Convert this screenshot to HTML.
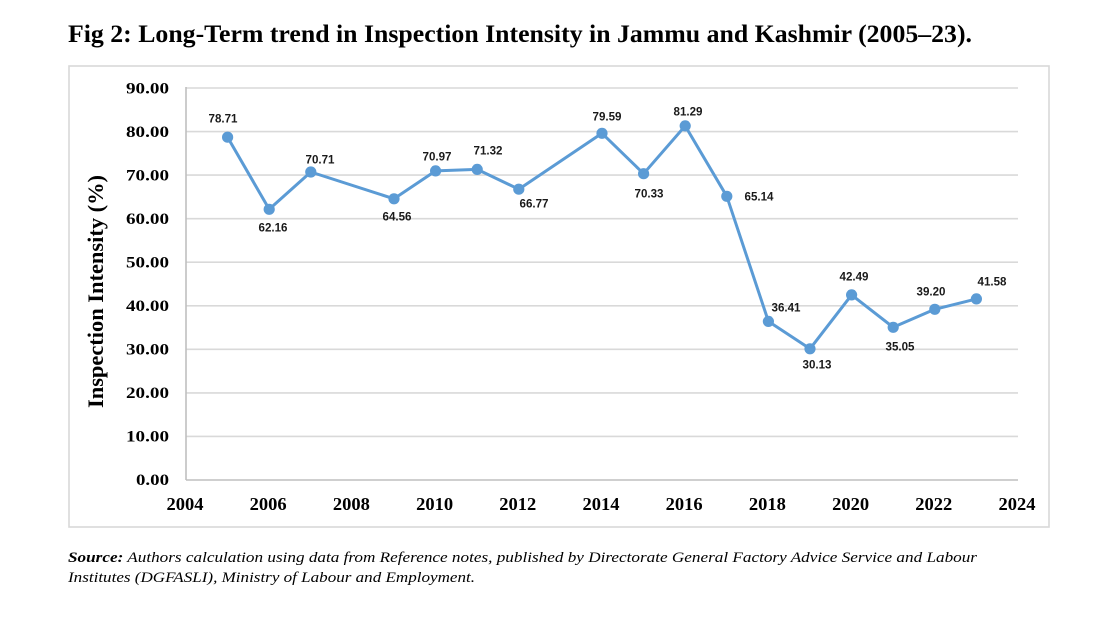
<!DOCTYPE html>
<html>
<head>
<meta charset="utf-8">
<style>
  html, body { margin: 0; padding: 0; background: #fff; }
  body { width: 1117px; height: 634px; overflow: hidden; }
  svg { display: block; }
  .serif { font-family: "Liberation Serif", "Times New Roman", serif; }
  .sans { font-family: "Liberation Sans", Arial, sans-serif; }
</style>
</head>
<body>
<svg width="1117" height="634" viewBox="0 0 1117 634" xmlns="http://www.w3.org/2000/svg">
  <rect x="0" y="0" width="1117" height="634" fill="#ffffff"/>

  <!-- Title -->
  <text class="serif" x="68" y="42" font-size="25" font-weight="bold" fill="#000" textLength="904" lengthAdjust="spacingAndGlyphs">Fig 2: Long-Term trend in Inspection Intensity in Jammu and Kashmir (2005–23).</text>

  <!-- Chart border -->
  <rect x="69" y="66" width="980" height="461" fill="none" stroke="#d9d9d9" stroke-width="1.6"/>

  <!-- Gridlines -->
  <g stroke="#d9d9d9" stroke-width="1.6">
    <line x1="186" y1="88" x2="1018" y2="88"/>
    <line x1="186" y1="131.6" x2="1018" y2="131.6"/>
    <line x1="186" y1="175.1" x2="1018" y2="175.1"/>
    <line x1="186" y1="218.7" x2="1018" y2="218.7"/>
    <line x1="186" y1="262.2" x2="1018" y2="262.2"/>
    <line x1="186" y1="305.8" x2="1018" y2="305.8"/>
    <line x1="186" y1="349.3" x2="1018" y2="349.3"/>
    <line x1="186" y1="392.9" x2="1018" y2="392.9"/>
    <line x1="186" y1="436.4" x2="1018" y2="436.4"/>
  </g>
  <!-- Axes -->
  <g stroke="#bfbfbf" stroke-width="1.6">
    <line x1="186" y1="87" x2="186" y2="480"/>
    <line x1="186" y1="480" x2="1018" y2="480"/>
  </g>

  <!-- Y tick labels -->
  <g class="serif" font-size="16" font-weight="bold" fill="#000" text-anchor="end">
    <text x="169" y="93.5" textLength="43" lengthAdjust="spacingAndGlyphs">90.00</text>
    <text x="169" y="137" textLength="43" lengthAdjust="spacingAndGlyphs">80.00</text>
    <text x="169" y="180.5" textLength="43" lengthAdjust="spacingAndGlyphs">70.00</text>
    <text x="169" y="224" textLength="43" lengthAdjust="spacingAndGlyphs">60.00</text>
    <text x="169" y="267.5" textLength="43" lengthAdjust="spacingAndGlyphs">50.00</text>
    <text x="169" y="311" textLength="43" lengthAdjust="spacingAndGlyphs">40.00</text>
    <text x="169" y="354.5" textLength="43" lengthAdjust="spacingAndGlyphs">30.00</text>
    <text x="169" y="398" textLength="43" lengthAdjust="spacingAndGlyphs">20.00</text>
    <text x="169" y="441.5" textLength="43" lengthAdjust="spacingAndGlyphs">10.00</text>
    <text x="169" y="485" textLength="33" lengthAdjust="spacingAndGlyphs">0.00</text>
  </g>

  <!-- X tick labels -->
  <g class="serif" font-size="17.5" font-weight="bold" fill="#000" text-anchor="middle">
    <text x="185" y="510" textLength="37" lengthAdjust="spacingAndGlyphs">2004</text>
    <text x="268.2" y="510" textLength="37" lengthAdjust="spacingAndGlyphs">2006</text>
    <text x="351.4" y="510" textLength="37" lengthAdjust="spacingAndGlyphs">2008</text>
    <text x="434.6" y="510" textLength="37" lengthAdjust="spacingAndGlyphs">2010</text>
    <text x="517.8" y="510" textLength="37" lengthAdjust="spacingAndGlyphs">2012</text>
    <text x="601" y="510" textLength="37" lengthAdjust="spacingAndGlyphs">2014</text>
    <text x="684.2" y="510" textLength="37" lengthAdjust="spacingAndGlyphs">2016</text>
    <text x="767.4" y="510" textLength="37" lengthAdjust="spacingAndGlyphs">2018</text>
    <text x="850.6" y="510" textLength="37" lengthAdjust="spacingAndGlyphs">2020</text>
    <text x="933.8" y="510" textLength="37" lengthAdjust="spacingAndGlyphs">2022</text>
    <text x="1017" y="510" textLength="37" lengthAdjust="spacingAndGlyphs">2024</text>
  </g>

  <!-- Y axis title -->
  <text class="serif" font-size="22" font-weight="bold" fill="#000" text-anchor="middle" transform="translate(103,291.5) rotate(-90)" textLength="233" lengthAdjust="spacingAndGlyphs">Inspection Intensity (%)</text>

  <!-- Series line -->
  <polyline fill="none" stroke="#5b9bd5" stroke-width="3" stroke-linejoin="round" stroke-linecap="round"
    points="227.6,137.2 269.2,209.3 310.8,172.0 394.0,198.8 435.6,170.9 477.2,169.4 518.8,189.2 602.0,133.3 643.6,173.7 685.2,125.9 726.8,196.3 768.4,321.4 810.0,348.8 851.6,294.9 893.2,327.3 934.8,309.3 976.4,298.9"/>

  <!-- Markers -->
  <g fill="#5b9bd5">
    <circle cx="227.6" cy="137.2" r="5.6"/>
    <circle cx="269.2" cy="209.3" r="5.6"/>
    <circle cx="310.8" cy="172.0" r="5.6"/>
    <circle cx="394.0" cy="198.8" r="5.6"/>
    <circle cx="435.6" cy="170.9" r="5.6"/>
    <circle cx="477.2" cy="169.4" r="5.6"/>
    <circle cx="518.8" cy="189.2" r="5.6"/>
    <circle cx="602.0" cy="133.3" r="5.6"/>
    <circle cx="643.6" cy="173.7" r="5.6"/>
    <circle cx="685.2" cy="125.9" r="5.6"/>
    <circle cx="726.8" cy="196.3" r="5.6"/>
    <circle cx="768.4" cy="321.4" r="5.6"/>
    <circle cx="810.0" cy="348.8" r="5.6"/>
    <circle cx="851.6" cy="294.9" r="5.6"/>
    <circle cx="893.2" cy="327.3" r="5.6"/>
    <circle cx="934.8" cy="309.3" r="5.6"/>
    <circle cx="976.4" cy="298.9" r="5.6"/>
  </g>

  <!-- Data labels -->
  <g class="sans" font-size="11.5" font-weight="bold" fill="#1a1a1a" text-anchor="middle">
    <text x="223" y="122.5" textLength="29" lengthAdjust="spacingAndGlyphs">78.71</text>
    <text x="273" y="231.5" textLength="29" lengthAdjust="spacingAndGlyphs">62.16</text>
    <text x="320" y="163.5" textLength="29" lengthAdjust="spacingAndGlyphs">70.71</text>
    <text x="397" y="220.5" textLength="29" lengthAdjust="spacingAndGlyphs">64.56</text>
    <text x="437" y="160.5" textLength="29" lengthAdjust="spacingAndGlyphs">70.97</text>
    <text x="488" y="154.5" textLength="29" lengthAdjust="spacingAndGlyphs">71.32</text>
    <text x="534" y="207.5" textLength="29" lengthAdjust="spacingAndGlyphs">66.77</text>
    <text x="607" y="120.5" textLength="29" lengthAdjust="spacingAndGlyphs">79.59</text>
    <text x="649" y="197.5" textLength="29" lengthAdjust="spacingAndGlyphs">70.33</text>
    <text x="688" y="115.5" textLength="29" lengthAdjust="spacingAndGlyphs">81.29</text>
    <text x="759" y="200.5" textLength="29" lengthAdjust="spacingAndGlyphs">65.14</text>
    <text x="786" y="311.5" textLength="29" lengthAdjust="spacingAndGlyphs">36.41</text>
    <text x="817" y="368.5" textLength="29" lengthAdjust="spacingAndGlyphs">30.13</text>
    <text x="854" y="280.5" textLength="29" lengthAdjust="spacingAndGlyphs">42.49</text>
    <text x="900" y="350.5" textLength="29" lengthAdjust="spacingAndGlyphs">35.05</text>
    <text x="931" y="295.5" textLength="29" lengthAdjust="spacingAndGlyphs">39.20</text>
    <text x="992" y="285.5" textLength="29" lengthAdjust="spacingAndGlyphs">41.58</text>
  </g>

  <!-- Source -->
  <g class="serif" font-size="15" font-style="italic" fill="#000">
    <text x="68" y="562" textLength="909" lengthAdjust="spacingAndGlyphs"><tspan font-weight="bold">Source:</tspan> Authors calculation using data from Reference notes, published by Directorate General Factory Advice Service and Labour</text>
    <text x="68" y="582" textLength="407" lengthAdjust="spacingAndGlyphs">Institutes (DGFASLI), Ministry of Labour and Employment.</text>
  </g>
</svg>
</body>
</html>
